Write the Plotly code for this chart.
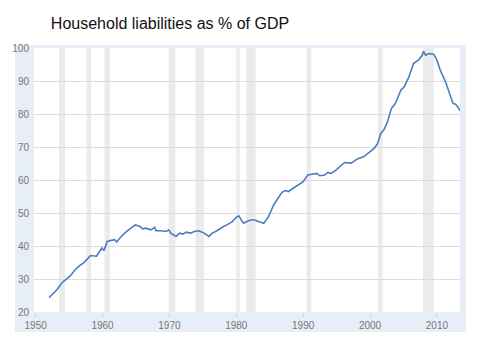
import plotly.graph_objects as go

# ---- data ----
years = [1952.0, 1952.7, 1953.2, 1953.9, 1954.7, 1955.2, 1955.9, 1956.7, 1957.2, 1957.6,
         1958.2, 1959.1, 1959.6, 1959.9, 1960.2, 1960.7, 1961.3, 1961.8, 1962.1, 1962.8,
         1963.6, 1964.1, 1964.4, 1964.9, 1965.6, 1966.0, 1966.5, 1967.2, 1967.8, 1968.0,
         1968.8, 1969.5, 1969.9, 1970.2, 1971.0, 1971.5, 1972.0, 1972.5, 1973.2, 1973.7,
         1974.4, 1975.2, 1975.9, 1976.4, 1976.9, 1977.6, 1978.1, 1978.6, 1979.4, 1980.1,
         1980.4, 1980.9, 1981.1, 1981.6, 1982.1, 1982.8, 1983.3,
         1984.1, 1984.8, 1985.6, 1986.3, 1986.8, 1987.3, 1987.8, 1988.5, 1989.3, 1990.0,
         1990.7, 1991.5, 1992.0, 1992.5, 1993.2, 1993.7, 1994.2, 1994.9, 1995.7, 1996.2,
         1997.2, 1998.1, 1999.1, 1999.9, 2000.6, 2001.1, 2001.6, 2002.1, 2002.6, 2003.2,
         2003.8, 2004.6, 2005.1, 2005.8, 2006.5, 2007.3, 2007.8, 2008.0, 2008.3, 2008.8,
         2009.5, 2009.9, 2010.5, 2011.3, 2012.0, 2012.4, 2012.8, 2013.3, 2013.5]
liabilities = [24.3, 25.8, 26.8, 28.8, 30.3, 31.0, 32.8, 34.3, 34.9, 35.9,
               37.1, 36.9, 38.4, 39.4, 38.6, 41.4, 41.7, 41.9, 41.2, 42.9,
               44.4, 45.1, 45.6, 46.4, 45.9, 45.2, 45.4, 44.9, 45.6, 44.6,
               44.6, 44.4, 44.9, 43.9, 42.9, 43.9, 43.6, 44.2, 43.9, 44.4,
               44.6, 43.9, 42.9, 43.9, 44.4, 45.4, 45.9, 46.4, 47.4, 48.9,
               49.1, 47.4, 46.9, 47.4, 47.9, 47.9, 47.4,
               46.9, 48.8, 52.5, 54.5, 56.2, 56.8, 56.5, 57.5, 58.5, 59.5,
               61.5, 61.8, 62.0, 61.3, 61.5, 62.3, 62.0, 63.0, 64.6, 65.3,
               65.1, 66.4, 67.1, 68.3, 69.6, 70.9, 74.1, 75.3, 77.6, 81.7,
               83.2, 87.2, 88.2, 91.2, 95.3, 96.5, 97.8, 99.0, 97.8, 98.3,
               98.1, 96.8, 93.3, 89.7, 85.7, 83.2, 83.0, 81.4, 81.0]

recession_start = [1953.5, 1957.6, 1960.3, 1969.9, 1973.9, 1980.0, 1981.5, 1990.5, 2001.2, 2007.9]
recession_end = [1954.4, 1958.3, 1961.1, 1970.9, 1975.2, 1980.5, 1982.9, 1991.2, 2001.9, 2009.5]

x_ticks = [1950, 1960, 1970, 1980, 1990, 2000, 2010]
y_ticks = [20, 30, 40, 50, 60, 70, 80, 90, 100]
title_text = "Household liabilities as % of GDP"

# ---- figure ----
W, H = 480, 349
ML, MR, MT, MB = 30, 20, 48, 37
PW, PH = W - ML - MR, H - MT - MB

def px_x(p):
    return (p - ML) / PW

def px_y(p):
    return (H - MB - p) / PH

FRAME = "#e7eef7"
shapes = []
# light blue frame around the plot area
frame_l, frame_r, frame_t, frame_b = 11, 466, 45, 332
for x0, x1, y0, y1 in [
    (frame_l, ML, frame_t, frame_b),
    (W - MR, frame_r, frame_t, frame_b),
    (frame_l, frame_r, H - MB, frame_b),
    (frame_l, frame_r, frame_t, MT),
]:
    shapes.append(dict(type="rect", xref="paper", yref="paper",
                       x0=px_x(x0), x1=px_x(x1), y0=px_y(y1), y1=px_y(y0),
                       fillcolor=FRAME, line=dict(width=0), layer="below"))
# recession bands
for s, e in zip(recession_start, recession_end):
    shapes.append(dict(type="rect", xref="x", yref="paper", x0=s, x1=e, y0=0, y1=1,
                       fillcolor="#ebebeb", line=dict(width=0), layer="below"))

fig = go.Figure()
fig.add_trace(go.Scatter(x=years, y=liabilities, mode="lines",
                         line=dict(color="#4a7ebf", width=1.6), hoverinfo="skip"))

fig.update_layout(
    width=W, height=H,
    margin=dict(l=ML, r=MR, t=MT, b=MB, pad=0),
    paper_bgcolor="white", plot_bgcolor="white",
    showlegend=False,
    shapes=shapes,
    font=dict(family="Liberation Sans, Arial, sans-serif", size=10, color="#666666"),
    title=dict(text=title_text, x=px_x(47), xref="paper", xanchor="left",
               y=1 - 23 / H, yref="container", yanchor="middle",
               font=dict(family="Liberation Sans, Arial, sans-serif", size=16, color="#111111")),
    xaxis=dict(range=[1949.75, 2013.45], tickvals=x_ticks, ticktext=[str(v) for v in x_ticks],
               showgrid=False, zeroline=False, showline=False,
               ticks="outside", ticklen=4, tickcolor="#c5d3e3", tickwidth=1,
               tickfont=dict(size=10, color="#777777")),
    yaxis=dict(range=[20, 100], tickvals=y_ticks, ticktext=[str(v) for v in y_ticks],
               showgrid=True, gridcolor="#dcdcdc", gridwidth=1,
               zeroline=False, showline=False, ticks="",
               ticklabelstandoff=4,
               tickfont=dict(size=10, color="#777777")),
)

fig.write_html("out.html")
